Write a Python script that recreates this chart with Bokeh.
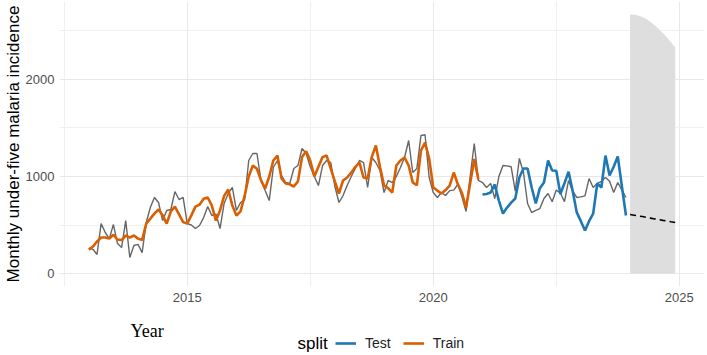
import numpy as np
from bokeh.plotting import figure
from bokeh.layouts import column
from bokeh.models import FixedTicker, Legend, LegendItem, Label, Range1d
from bokeh.embed import file_html
from bokeh.resources import INLINE

start_year = 2013
actual = [265, 250, 196, 515, 423, 360, 505, 309, 268, 546, 165, 289,
          300, 216, 526, 680, 784, 732, 546, 650, 660, 845, 763, 784,
          515, 500, 464, 495, 577, 690, 598, 613, 464, 722, 825, 887,
          650, 732, 760, 1165, 1237, 1237, 959, 855, 752, 1093, 1165, 1010,
          938, 928, 1082, 1113, 1289, 1237, 1100, 1000, 907, 1113, 1165, 1144,
          900, 732, 804, 907, 1000, 1082, 1165, 1144, 887, 1196, 1144, 1062,
          835, 959, 938, 1000, 1093, 1196, 1371, 1041, 1082, 1423, 1430, 990,
          835, 784, 835, 804, 855, 860, 920, 790, 640, 1000, 1340, 960,
          938, 887, 928, 773, 1000, 1113, 1110, 1100, 850, 1186, 1041, 722,
          629, 650, 670, 773, 825, 740, 860, 830, 740, 959, 850, 784,
          790, 800, 979, 887, 930, 950, 990, 950, 835, 938, 860, 784]
train_fit = [245, 278, 330, 371, 371, 360, 400, 350, 345, 392, 371, 392,
             360, 345, 515, 566, 618, 660, 600, 515, 640, 690, 610, 530,
             515, 600, 690, 710, 770, 784, 700, 546, 650, 800, 866, 700,
             598, 640, 800, 1000, 1113, 1080, 960, 876, 1000, 1165, 1216, 979,
             928, 920, 897, 950, 1200, 1260, 1165, 1000, 1100, 1200, 1216, 1082,
             950, 825, 959, 990, 1040, 1100, 1144, 990, 980, 1200, 1320, 1100,
             907, 880, 835, 1113, 1165, 1196, 1113, 940, 910, 1268, 1350, 1186,
             887, 855, 825, 860, 907, 1041, 920, 830, 680, 930, 1180, 970]
test_pred = [814, 820, 835, 918, 752, 618, 680, 730, 773, 990, 1082, 1082,
             887, 722, 880, 938, 1165, 1062, 1060, 820, 930, 1050, 850, 630,
             540, 443, 540, 618, 928, 887, 1216, 1010, 1100, 1206, 900, 598]
forecast = [608, 601, 594, 587, 579, 571, 563, 556, 548, 541, 533, 526]
fc_upper = [2670, 2668, 2660, 2645, 2622, 2592, 2558, 2520, 2478, 2432, 2383, 2330]
fc_lower = [0] * 12

x_ticks = [2015, 2020, 2025]
x_minor = [2012.5, 2017.5, 2022.5]
y_ticks = [0, 1000, 2000]
y_minor = [500, 1500, 2500]

TRAIN_COLOR = "#D95F02"
TEST_COLOR = "#1F78B4"

n_act = len(actual)
x_act = start_year + np.arange(n_act) / 12
x_train = x_act[:len(train_fit)]
x_test = x_act[len(train_fit):len(train_fit) + len(test_pred)]
x_fc = start_year + (n_act + np.arange(len(forecast))) / 12

xmin, xmax = x_act[0], x_fc[-1]
xpad = (xmax - xmin) * 0.05
ymin, ymax = 0, max(fc_upper)
ypad = (ymax - ymin) * 0.05

LEFT, RIGHT = 59, 3

# ---------------- main panel ----------------
p = figure(width=707, height=312, output_backend="svg", toolbar_location=None,
           x_range=Range1d(xmin - xpad, xmax + xpad), y_range=Range1d(ymin - ypad, ymax + ypad),
           min_border_left=LEFT, min_border_right=RIGHT, min_border_top=1, min_border_bottom=26)
p.outline_line_color = None
p.background_fill_color = "white"

p.varea(x=x_fc, y1=fc_lower, y2=fc_upper, fill_color="#DEDEDE")
p.line(x_act, actual, line_color="#666666", line_width=1.4)
p.line(x_train, train_fit, line_color=TRAIN_COLOR, line_width=2.6)
p.line(x_test, test_pred, line_color=TEST_COLOR, line_width=2.6)
p.line(x_fc, forecast, line_color="black", line_width=1.6, line_dash="6 4")

p.xaxis.ticker = FixedTicker(ticks=x_ticks, minor_ticks=x_minor)
p.yaxis.ticker = FixedTicker(ticks=y_ticks, minor_ticks=y_minor)
for g in (p.xgrid, p.ygrid):
    g.grid_line_color = "#E8E8E8"
    g.grid_line_width = 1
    g.minor_grid_line_color = "#F0F0F0"
    g.minor_grid_line_width = 1

for ax in (p.xaxis, p.yaxis):
    ax.axis_line_color = None
    ax.major_tick_line_color = None
    ax.minor_tick_line_color = None
    ax.major_tick_out = 0
    ax.major_tick_in = 0
    ax.minor_tick_out = 0
    ax.minor_tick_in = 0
    ax.major_label_text_color = "#4D4D4D"
    ax.major_label_text_font = "Liberation Sans"
    ax.major_label_text_font_size = "13px"
p.xaxis.major_label_standoff = 6
p.yaxis.major_label_standoff = 5

p.yaxis.axis_label = "Monthly under-five malaria incidence"
p.yaxis.axis_label_text_font = "Liberation Sans"
p.yaxis.axis_label_text_font_style = "normal"
p.yaxis.axis_label_text_font_size = "17px"
p.yaxis.axis_label_text_color = "black"
p.yaxis.axis_label_standoff = 0

# ---------------- bottom strip: x title and legend ----------------
s = figure(width=707, height=43, output_backend="svg", toolbar_location=None,
           x_range=Range1d(0, 707 - LEFT - RIGHT), y_range=Range1d(0, 43),
           x_axis_type=None, y_axis_type=None,
           min_border_left=LEFT, min_border_right=RIGHT, min_border_top=0, min_border_bottom=0)
s.outline_line_color = None
s.xgrid.visible = False
s.ygrid.visible = False

k_test = s.line([np.nan, np.nan], [np.nan, np.nan], line_color=TEST_COLOR, line_width=2.6)
k_train = s.line([np.nan, np.nan], [np.nan, np.nan], line_color=TRAIN_COLOR, line_width=2.6)

s.add_layout(Label(x=130 - LEFT, y=25, x_units="screen", y_units="screen", text="Year",
                   text_font="Liberation Serif", text_font_size="18px",
                   text_font_style="normal", text_color="black",
                   text_align="left", text_baseline="middle"))
s.add_layout(Label(x=297 - LEFT, y=12, x_units="screen", y_units="screen", text="split",
                   text_font="Liberation Sans", text_font_size="17px",
                   text_font_style="normal", text_color="black",
                   text_align="left", text_baseline="middle"))

legend = Legend(items=[LegendItem(label="Test", renderers=[k_test]),
                       LegendItem(label="Train", renderers=[k_train])],
                orientation="horizontal", location=(335 - LEFT, 3),
                label_text_font="Liberation Sans", label_text_font_size="14px",
                label_text_color="#222222", label_height=18,
                glyph_width=21, glyph_height=18, label_standoff=9, spacing=12,
                border_line_color=None, background_fill_alpha=0, padding=0, margin=0)
s.add_layout(legend, "center")

layout = column(p, s, spacing=0)
open("out.html", "w").write(file_html(layout, INLINE))
